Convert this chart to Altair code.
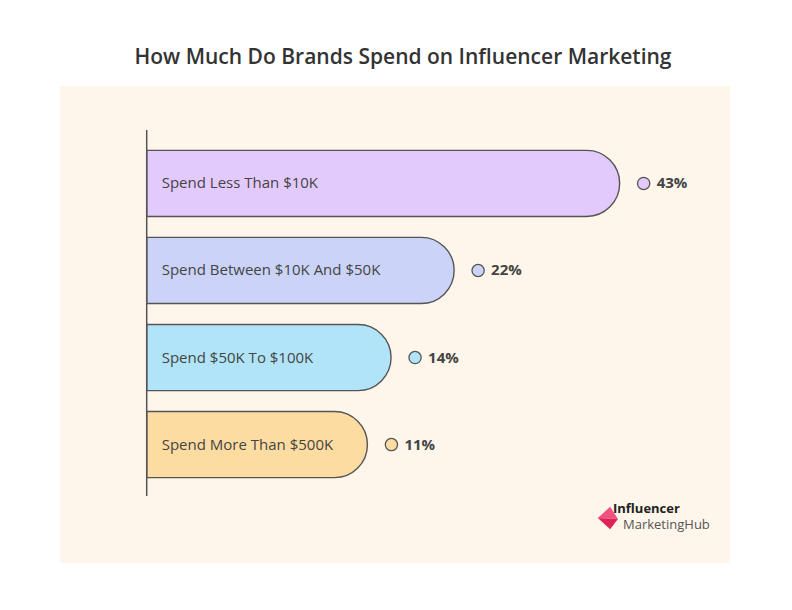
import altair as alt
import pandas as pd

categories = [
    'Spend Less Than $10K',
    'Spend Between $10K And $50K',
    'Spend $50K To $100K',
    'Spend More Than $500K',
]
shares = [43, 22, 14, 11]
palette = ['#E3CAFC', '#CBD4F8', '#B1E4F8', '#FDDCA2']
logo_top = ['Influencer']
logo_bottom = ['MarketingHub']

df = pd.DataFrame({'category': categories, 'share': shares})

FONT = 'Open Sans'
INK = '#444444'
BASE = -17  # bars start here on the x scale

x_scale = alt.Scale(domain=[-28, 57], nice=False, zero=False)
y_enc = alt.Y('category:N', sort=categories, axis=None,
              scale=alt.Scale(paddingInner=0.24, paddingOuter=0.86, align=0.43))
color_enc = alt.Color('category:N', scale=alt.Scale(domain=categories, range=palette), legend=None)

base = alt.Chart(df)

bars = base.mark_bar(cornerRadiusTopRight=33, cornerRadiusBottomRight=33,
                     stroke='#555555', strokeWidth=1.4).encode(
    x=alt.X('share:Q', scale=x_scale, axis=None),
    x2=alt.datum(BASE),
    y=y_enc,
    color=color_enc,
)

axis_line = alt.Chart(pd.DataFrame({'a': [0]})).mark_rule(color='#555555', strokeWidth=1.5).encode(
    x=alt.datum(BASE, scale=x_scale),
    y=alt.value(44),
    y2=alt.value(410),
)

names = base.mark_text(align='left', dx=15, font=FONT, fontSize=15, color=INK).encode(
    x=alt.datum(BASE),
    y=y_enc,
    text='category:N',
)

dots = base.mark_point(filled=True, shape='circle', size=150, xOffset=24,
                       stroke='#555555', strokeWidth=1.3, opacity=1).encode(
    x='share:Q',
    y=y_enc,
    fill=alt.Fill('category:N', scale=alt.Scale(domain=categories, range=palette), legend=None),
)

pct = base.transform_calculate(label="datum.share + '%'").mark_text(
    align='left', dx=37, font=FONT, fontSize=15, fontWeight='bold', color=INK
).encode(
    x='share:Q',
    y=y_enc,
    text='label:N',
)

# logo: a pink folded kite plus two lines of text
icon_top = alt.Chart(pd.DataFrame({'a': [0]})).mark_point(
    filled=True, opacity=1, size=500, color='#F2527F',
    shape='M -1 0 L 0.1 -1 L 0.8 0.1 Z'
).encode(x=alt.value(549), y=alt.value(432))

icon_low = alt.Chart(pd.DataFrame({'a': [0]})).mark_point(
    filled=True, opacity=1, size=500, color='#DE2359',
    shape='M -1 0 L 0.8 0.1 L 0.1 1 Z'
).encode(x=alt.value(549), y=alt.value(432))

logo1 = alt.Chart(pd.DataFrame({'t': logo_top})).mark_text(
    align='left', baseline='alphabetic', font=FONT, fontSize=13, fontWeight='bold', color='#222222'
).encode(x=alt.value(553), y=alt.value(427), text='t:N')

logo2 = alt.Chart(pd.DataFrame({'t': logo_bottom})).mark_text(
    align='left', baseline='alphabetic', font=FONT, fontSize=13, color='#555555'
).encode(x=alt.value(563), y=alt.value(443), text='t:N')

chart = alt.layer(bars, axis_line, names, dots, pct, icon_top, icon_low, logo1, logo2).properties(
    width=670,
    height=477,
    autosize=alt.AutoSizeParams(type='none'),
    padding={'left': 52, 'top': 78, 'right': 54, 'bottom': 30},
    background='white',
    title=alt.TitleParams(
        'How Much Do Brands Spend on Influencer Marketing',
        font=FONT, fontSize=21, fontWeight=600, color='#333333',
        anchor='middle', offset=18, dx=8,
    ),
).configure_view(fill='#FEF6EA', strokeWidth=0)

chart.save('out.html', embed_options={'renderer': 'svg', 'actions': False})
